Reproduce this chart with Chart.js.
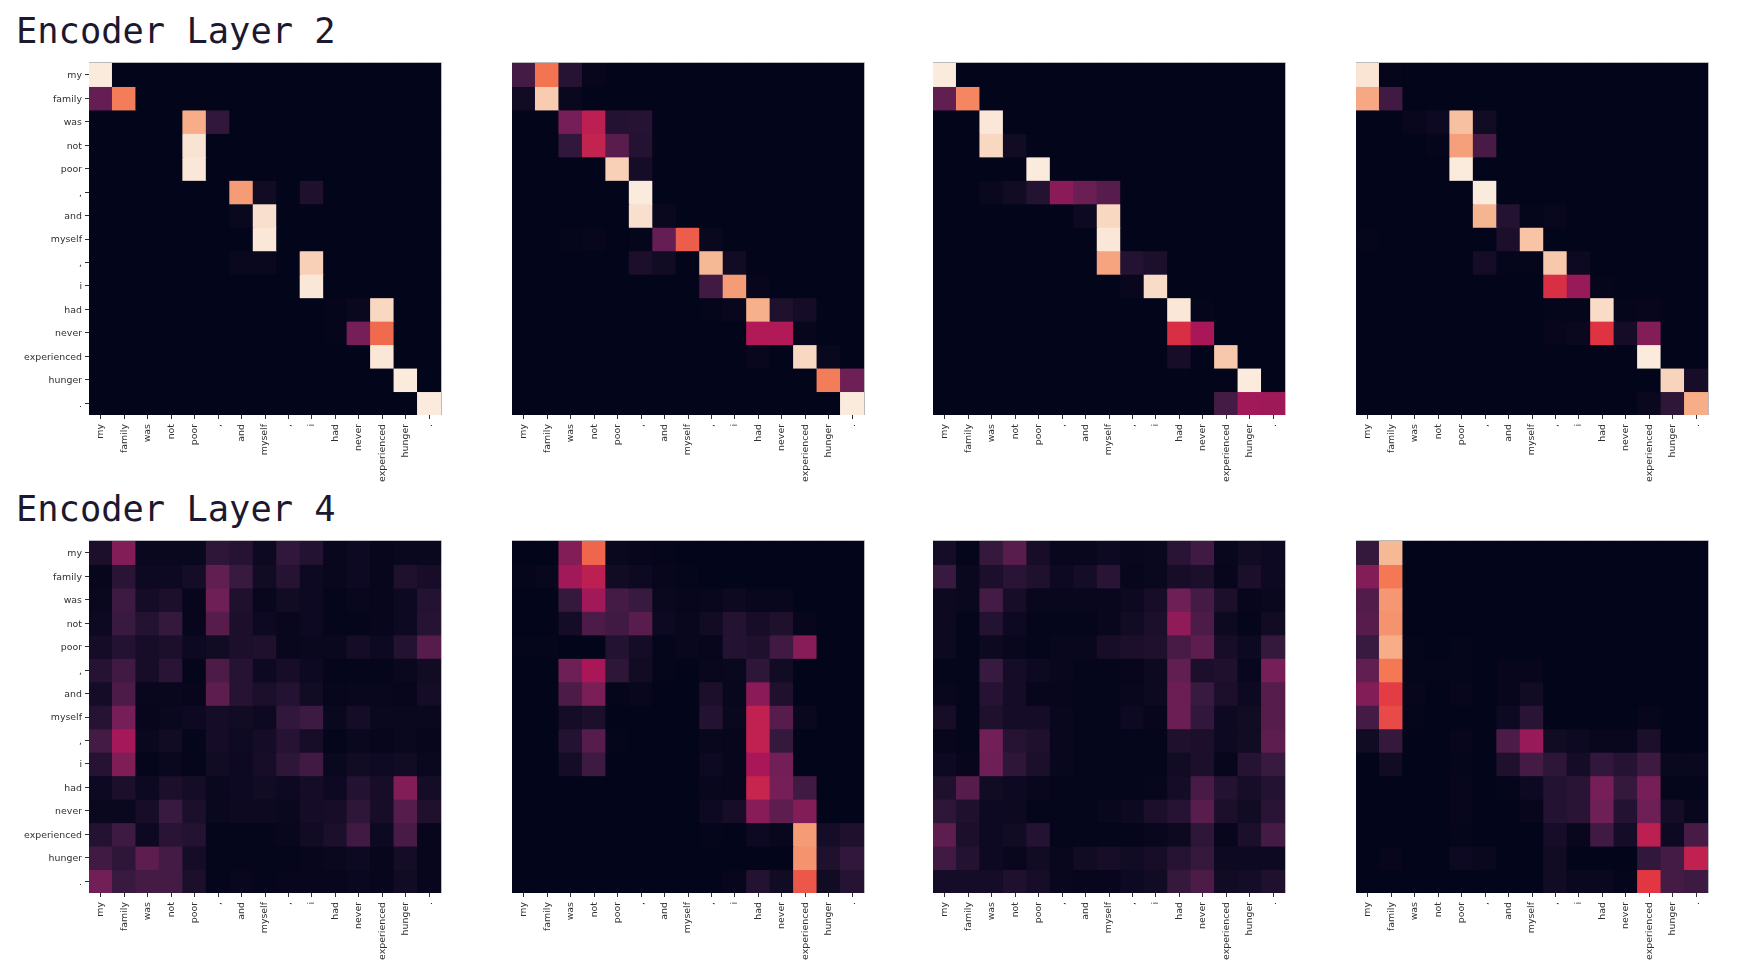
<!DOCTYPE html>
<html>
<head>
<meta charset="utf-8">
<title>Encoder attention</title>
<script src="https://cdn.jsdelivr.net/npm/chart.js@4"></script>
<style>
	html, body { margin: 0; padding: 0; background: #fff; }
	body { width: 1750px; height: 969px; position: relative; overflow: hidden; }
	canvas { position: absolute; }
	.layer-title {
		position: absolute;
		left: 16px;
		font-family: "DejaVu Sans Mono", monospace;
		font-size: 35.4px;
		line-height: 40px;
		color: #1c1830;
		white-space: pre;
	}
</style>
</head>
<body>
<div class="layer-title" style="top:11px">Encoder Layer 2</div>
<div class="layer-title" style="top:489px">Encoder Layer 4</div>
<canvas id="c0"></canvas>
<canvas id="c1"></canvas>
<canvas id="c2"></canvas>
<canvas id="c3"></canvas>
<canvas id="c4"></canvas>
<canvas id="c5"></canvas>
<canvas id="c6"></canvas>
<canvas id="c7"></canvas>
<script>
var tokens = ['my', 'family', 'was', 'not', 'poor', ',', 'and', 'myself', ',', 'i', 'had', 'never', 'experienced', 'hunger', '.'];

var layer2Head1 = [
	[1, 0, 0, 0, 0, 0, 0, 0, 0, 0, 0, 0, 0, 0, 0],
	[.26, .73, 0, 0, 0, 0, 0, 0, 0, 0, 0, 0, 0, 0, 0],
	[0, 0, 0, 0, .84, .13, 0, 0, 0, 0, 0, 0, 0, 0, 0],
	[0, 0, 0, 0, .98, 0, 0, 0, 0, 0, 0, 0, 0, 0, 0],
	[0, 0, 0, 0, .99, 0, 0, 0, 0, 0, 0, 0, 0, 0, 0],
	[0, 0, 0, 0, 0, 0, .8, .04, 0, .08, 0, 0, 0, 0, 0],
	[0, 0, 0, 0, 0, 0, .02, .97, 0, 0, 0, 0, 0, 0, 0],
	[0, 0, 0, 0, 0, 0, 0, .99, 0, 0, 0, 0, 0, 0, 0],
	[0, 0, 0, 0, 0, 0, .02, .02, 0, .93, 0, 0, 0, 0, 0],
	[0, 0, 0, 0, 0, 0, 0, 0, 0, .99, 0, 0, 0, 0, 0],
	[0, 0, 0, 0, 0, 0, 0, 0, 0, 0, .005, .02, .95, 0, 0],
	[0, 0, 0, 0, 0, 0, 0, 0, 0, 0, .005, .3, .69, 0, 0],
	[0, 0, 0, 0, 0, 0, 0, 0, 0, 0, 0, 0, .99, 0, 0],
	[0, 0, 0, 0, 0, 0, 0, 0, 0, 0, 0, 0, 0, 1, 0],
	[0, 0, 0, 0, 0, 0, 0, 0, 0, 0, 0, 0, 0, 0, 1]
];
var layer2Head2 = [
	[.18, .71, .1, .01, 0, 0, 0, 0, 0, 0, 0, 0, 0, 0, 0],
	[.04, .92, .02, 0, 0, 0, 0, 0, 0, 0, 0, 0, 0, 0, 0],
	[0, 0, .3, .47, .09, .1, 0, 0, 0, 0, 0, 0, 0, 0, 0],
	[0, 0, .13, .49, .23, .09, 0, 0, 0, 0, 0, 0, 0, 0, 0],
	[0, 0, 0, 0, .93, .05, 0, 0, 0, 0, 0, 0, 0, 0, 0],
	[0, 0, 0, 0, 0, 1, 0, 0, 0, 0, 0, 0, 0, 0, 0],
	[0, 0, 0, 0, 0, .97, .02, 0, 0, 0, 0, 0, 0, 0, 0],
	[0, 0, .005, .01, 0, .005, .26, .66, .02, 0, 0, 0, 0, 0, 0],
	[0, 0, 0, 0, 0, .07, .04, 0, .87, .04, 0, 0, 0, 0, 0],
	[0, 0, 0, 0, 0, 0, 0, 0, .17, .8, .01, 0, 0, 0, 0],
	[0, 0, 0, 0, 0, 0, 0, 0, .005, .015, .85, .08, .05, 0, 0],
	[0, 0, 0, 0, 0, 0, 0, 0, 0, 0, .44, .44, .01, 0, 0],
	[0, 0, 0, 0, 0, 0, 0, 0, 0, 0, .015, 0, .95, .02, 0],
	[0, 0, 0, 0, 0, 0, 0, 0, 0, 0, 0, 0, 0, .73, .28],
	[0, 0, 0, 0, 0, 0, 0, 0, 0, 0, 0, 0, 0, 0, 1]
];
var layer2Head3 = [
	[1, 0, 0, 0, 0, 0, 0, 0, 0, 0, 0, 0, 0, 0, 0],
	[.25, .75, 0, 0, 0, 0, 0, 0, 0, 0, 0, 0, 0, 0, 0],
	[0, 0, .99, 0, 0, 0, 0, 0, 0, 0, 0, 0, 0, 0, 0],
	[0, 0, .95, .04, 0, 0, 0, 0, 0, 0, 0, 0, 0, 0, 0],
	[0, 0, 0, 0, 1, 0, 0, 0, 0, 0, 0, 0, 0, 0, 0],
	[0, 0, .02, .04, .09, .35, .27, .22, 0, 0, 0, 0, 0, 0, 0],
	[0, 0, 0, 0, 0, 0, .03, .95, 0, 0, 0, 0, 0, 0, 0],
	[0, 0, 0, 0, 0, 0, 0, .99, 0, 0, 0, 0, 0, 0, 0],
	[0, 0, 0, 0, 0, 0, 0, .82, .09, .07, 0, 0, 0, 0, 0],
	[0, 0, 0, 0, 0, 0, 0, 0, .015, .96, 0, 0, 0, 0, 0],
	[0, 0, 0, 0, 0, 0, 0, 0, 0, 0, .99, .005, 0, 0, 0],
	[0, 0, 0, 0, 0, 0, 0, 0, 0, 0, .55, .42, 0, 0, 0],
	[0, 0, 0, 0, 0, 0, 0, 0, 0, 0, .06, 0, .91, 0, 0],
	[0, 0, 0, 0, 0, 0, 0, 0, 0, 0, 0, 0, 0, 1, 0],
	[0, 0, 0, 0, 0, 0, 0, 0, 0, 0, 0, 0, .18, .4, .39]
];
var layer2Head4 = [
	[.985, .005, 0, 0, 0, 0, 0, 0, 0, 0, 0, 0, 0, 0, 0],
	[.83, .17, 0, 0, 0, 0, 0, 0, 0, 0, 0, 0, 0, 0, 0],
	[0, 0, .015, .03, .89, .04, 0, 0, 0, 0, 0, 0, 0, 0, 0],
	[0, 0, 0, .005, .81, .19, 0, 0, 0, 0, 0, 0, 0, 0, 0],
	[0, 0, 0, 0, 1, 0, 0, 0, 0, 0, 0, 0, 0, 0, 0],
	[0, 0, 0, 0, 0, 1, 0, 0, 0, 0, 0, 0, 0, 0, 0],
	[0, 0, 0, 0, 0, .86, .09, .005, .015, 0, 0, 0, 0, 0, 0],
	[.005, 0, 0, 0, 0, 0, .07, .9, 0, 0, 0, 0, 0, 0, 0],
	[0, 0, 0, 0, 0, .05, .005, .005, .91, .03, 0, 0, 0, 0, 0],
	[0, 0, 0, 0, 0, 0, 0, 0, .55, .38, .005, 0, 0, 0, 0],
	[0, 0, 0, 0, 0, 0, 0, 0, .005, .005, .96, .005, .01, 0, 0],
	[0, 0, 0, 0, 0, 0, 0, 0, .01, .02, .57, .05, .33, 0, 0],
	[0, 0, 0, 0, 0, 0, 0, 0, 0, 0, 0, 0, 1, 0, 0],
	[0, 0, 0, 0, 0, 0, 0, 0, 0, 0, 0, 0, 0, .94, .06],
	[0, 0, 0, 0, 0, 0, 0, 0, 0, 0, 0, 0, .02, .12, .84]
];
var layer4Head1 = [
	[.07, .33, .02, .02, .02, .12, .1, .03, .13, .09, .015, .03, .01, .02, .02],
	[.01, .11, .03, .03, .05, .25, .15, .04, .1, .03, .015, .03, .01, .08, .06],
	[.02, .16, .05, .07, .01, .28, .08, .015, .04, .03, .005, .015, .01, .03, .09],
	[.03, .15, .09, .14, .01, .22, .07, .03, .015, .03, .005, .005, .01, .03, .1],
	[.05, .09, .06, .07, .03, .04, .07, .08, .015, .02, .02, .05, .03, .09, .22],
	[.1, .17, .06, .11, .005, .2, .1, .03, .06, .03, .005, .005, .005, .02, .04],
	[.05, .2, .015, .015, .01, .24, .1, .07, .09, .04, .01, .015, .015, .01, .05],
	[.1, .3, .01, .02, .03, .05, .04, .03, .13, .16, .02, .05, .02, .02, .02],
	[.18, .41, .02, .04, .005, .05, .035, .05, .1, .06, .005, .02, .01, .02, .01],
	[.1, .32, .005, .02, .005, .04, .03, .06, .12, .17, .02, .04, .035, .04, .02],
	[.03, .07, .03, .07, .05, .02, .03, .04, .03, .05, .03, .09, .06, .33, .05],
	[.02, .02, .06, .15, .07, .02, .025, .025, .02, .05, .06, .12, .06, .22, .08],
	[.09, .16, .03, .11, .09, .005, .005, .005, .015, .04, .07, .17, .03, .19, .01],
	[.17, .12, .24, .18, .05, .005, .005, .005, .005, .01, .02, .03, .01, .05, .01],
	[.29, .15, .18, .18, .07, .005, .015, .005, .01, .01, .01, .02, .01, .04, .01]
];
var layer4Head2 = [
	[0, 0, .33, .68, .02, .01, .005, 0, 0, 0, 0, 0, 0, 0, 0],
	[.005, .015, .4, .47, .04, .03, .01, .005, 0, 0, 0, 0, 0, 0, 0],
	[0, 0, .14, .4, .18, .15, .02, .01, .015, .025, .015, .015, 0, 0, 0],
	[0, 0, .05, .2, .17, .23, .03, .015, .04, .09, .06, .08, .01, 0, 0],
	[.005, .005, 0, 0, .09, .05, .005, .015, .01, .09, .08, .17, .34, 0, 0],
	[0, 0, .28, .42, .12, .04, .005, 0, .015, .02, .12, .04, 0, 0, 0],
	[0, 0, .2, .31, .005, .015, 0, 0, .07, .015, .35, .08, 0, 0, 0],
	[0, 0, .05, .07, 0, 0, 0, 0, .09, .02, .48, .22, .02, 0, 0],
	[0, 0, .09, .22, .005, 0, 0, 0, .015, .01, .48, .14, 0, 0, 0],
	[0, 0, .05, .16, 0, 0, 0, 0, .03, .01, .42, .29, 0, 0, 0],
	[0, 0, 0, 0, 0, 0, 0, 0, .015, .01, .5, .3, .17, 0, 0],
	[0, 0, 0, 0, 0, 0, 0, 0, .03, .06, .34, .24, .33, 0, 0],
	[0, 0, 0, 0, 0, 0, 0, 0, .005, 0, .03, .015, .8, .05, .08],
	[0, 0, 0, 0, 0, 0, 0, 0, 0, 0, 0, 0, .78, .08, .13],
	[0, 0, 0, 0, 0, 0, 0, 0, 0, .01, .09, .04, .65, .04, .1]
];
var layer4Head3 = [
	[.05, .005, .14, .23, .06, .015, .015, .03, .015, .02, .11, .17, .015, .04, .03],
	[.15, .02, .07, .11, .08, .03, .05, .11, .01, .02, .06, .07, .01, .07, .03],
	[.025, .02, .18, .06, .015, .015, .015, .015, .025, .06, .28, .18, .07, .01, .02],
	[.025, .005, .09, .03, .005, .005, .005, .015, .04, .07, .36, .2, .025, .005, .04],
	[.025, .005, .025, .015, .005, .015, .015, .06, .07, .08, .19, .24, .06, .03, .14],
	[.005, .005, .15, .05, .03, .015, .005, .005, .01, .025, .25, .07, .08, .015, .3],
	[.015, .005, .1, .05, .01, .01, .005, .005, .015, .025, .27, .15, .07, .03, .22],
	[.06, .005, .08, .05, .05, .015, .005, .005, .03, .01, .27, .13, .03, .04, .22],
	[.01, .005, .29, .1, .08, .015, .005, .005, .005, .005, .08, .07, .03, .04, .24],
	[.03, .01, .28, .12, .07, .015, .005, .005, .005, .005, .04, .07, .01, .1, .15],
	[.08, .22, .04, .03, .015, .005, .005, .005, .005, .01, .05, .19, .09, .06, .09],
	[.12, .08, .03, .025, .005, .005, .005, .015, .025, .07, .1, .23, .07, .04, .11],
	[.24, .07, .03, .04, .09, .005, .005, .005, .005, .015, .025, .12, .01, .07, .18],
	[.17, .09, .03, .015, .04, .015, .04, .06, .04, .06, .1, .14, .03, .03, .03],
	[.05, .05, .05, .08, .06, .015, .01, .01, .03, .04, .14, .2, .04, .05, .08]
];
var layer4Head4 = [
	[.14, .87, 0, 0, 0, 0, 0, 0, 0, 0, 0, 0, 0, 0, 0],
	[.33, .72, 0, 0, 0, 0, 0, 0, 0, 0, 0, 0, 0, 0, 0],
	[.21, .79, 0, 0, 0, 0, 0, 0, 0, 0, 0, 0, 0, 0, 0],
	[.22, .78, 0, 0, 0, 0, 0, 0, 0, 0, 0, 0, 0, 0, 0],
	[.15, .84, .005, 0, .005, 0, 0, 0, 0, 0, 0, 0, 0, 0, 0],
	[.25, .72, .005, .005, .005, 0, .01, .01, 0, 0, 0, 0, 0, 0, 0],
	[.33, .59, .01, 0, .01, 0, .01, .04, 0, 0, 0, 0, 0, 0, 0],
	[.18, .62, .005, 0, 0, 0, .03, .11, 0, 0, 0, 0, .01, 0, 0],
	[.04, .14, 0, 0, .01, 0, .2, .38, .04, .03, .015, .015, .07, 0, 0],
	[0, .04, 0, 0, .005, 0, .08, .18, .12, .05, .13, .1, .16, .02, .02],
	[0, 0, 0, 0, .01, 0, .005, .03, .09, .11, .3, .14, .3, .005, .005],
	[0, 0, 0, 0, .01, 0, 0, .01, .09, .11, .28, .09, .28, .05, .015],
	[0, 0, 0, 0, .005, 0, 0, 0, .06, .015, .17, .05, .47, .03, .19],
	[0, .01, 0, 0, .03, .02, 0, 0, .04, 0, 0, 0, .13, .18, .48],
	[0, 0, 0, 0, 0, 0, 0, 0, .04, .02, .02, .005, .58, .18, .16]
];

var panels = [layer2Head1, layer2Head2, layer2Head3, layer2Head4, layer4Head1, layer4Head2, layer4Head3, layer4Head4];

// rocket colormap
var rocket = [[3, 5, 26], [53, 25, 62], [112, 31, 87], [173, 23, 89], [225, 51, 66], [243, 118, 81], [246, 180, 143], [250, 235, 221]];

function cellColor(v) {
	var p = Math.min(v, 1) * (rocket.length - 1);
	var i = Math.min(Math.floor(p), rocket.length - 2);
	var t = p - i;
	var c = rocket[i].map(function(a, k) { return Math.round(a + (rocket[i + 1][k] - a) * t); });
	return 'rgb(' + c.join(',') + ')';
}

var panelLeft = [89, 512, 933, 1356];
var panelTop = [63, 541];
var panelSize = 352;
var pad = 10;
var axisHeight = 76;
var textColor = '#303030';
var tickFont = { family: '"DejaVu Sans"', size: 9.4 };

// dark backing so cell seams do not show, light edge on top and right like the original
var heatmapFrame = {
	id: 'heatmapFrame',
	beforeDatasetsDraw: function(chart) {
		var a = chart.chartArea;
		chart.ctx.save();
		chart.ctx.fillStyle = 'rgb(3,5,26)';
		chart.ctx.fillRect(a.left, a.top, a.right - a.left, a.bottom - a.top);
		chart.ctx.restore();
	},
	afterDatasetsDraw: function(chart) {
		var a = chart.chartArea;
		var ctx = chart.ctx;
		ctx.save();
		ctx.strokeStyle = 'rgba(170,170,175,0.8)';
		ctx.lineWidth = 1;
		ctx.beginPath();
		ctx.moveTo(a.left, a.top - 0.5);
		ctx.lineTo(a.right + 0.5, a.top - 0.5);
		ctx.lineTo(a.right + 0.5, a.bottom);
		ctx.stroke();
		ctx.restore();
	}
};

function makePanel(index, matrix) {
	var col = index % 4;
	var row = Math.floor(index / 4);
	var yWidth = col === 0 ? panelLeft[0] - pad : 0;
	var canvas = document.getElementById('c' + index);
	canvas.width = yWidth + panelSize + pad * 2;
	canvas.height = panelSize + axisHeight + pad;
	canvas.style.width = canvas.width + 'px';
	canvas.style.height = canvas.height + 'px';
	canvas.style.left = (panelLeft[col] - yWidth - pad) + 'px';
	canvas.style.top = (panelTop[row] - pad) + 'px';

	new Chart(canvas.getContext('2d'), {
		type: 'bar',
		plugins: [heatmapFrame],
		data: {
			labels: tokens,
			datasets: matrix.map(function(values, r) {
				return {
					label: tokens[r],
					data: values.map(function() { return 1; }),
					backgroundColor: values.map(cellColor),
					borderWidth: 0,
					inflateAmount: 0.5,
					barPercentage: 1,
					categoryPercentage: 1
				};
			})
		},
		options: {
			responsive: false,
			animation: false,
			events: [],
			layout: { padding: { top: pad, right: pad, left: pad, bottom: 0 } },
			plugins: { legend: { display: false }, tooltip: { enabled: false } },
			scales: {
				x: {
					stacked: true,
					afterFit: function(scale) { scale.height = axisHeight; },
					border: { display: false },
					grid: { offset: false, drawOnChartArea: false, tickLength: 4, tickColor: textColor, tickWidth: 1 },
					ticks: { autoSkip: false, minRotation: 90, maxRotation: 90, padding: 5, color: textColor, font: tickFont }
				},
				y: {
					stacked: true,
					reverse: true,
					min: 0,
					max: tokens.length,
					afterFit: function(scale) { scale.width = yWidth; },
					afterBuildTicks: function(scale) {
						scale.ticks = tokens.map(function(t, i) { return { value: i + 0.5 }; });
					},
					border: { display: false },
					grid: { display: col === 0, drawOnChartArea: false, tickLength: 4, tickColor: textColor, tickWidth: 1 },
					ticks: {
						display: col === 0,
						autoSkip: false,
						padding: 3,
						labelOffset: 1,
						color: textColor,
						font: tickFont,
						callback: function(value) { return tokens[value - 0.5]; }
					}
				}
			}
		}
	});
}

window.onload = function() {
	panels.forEach(function(matrix, i) {
		makePanel(i, matrix);
	});
};
</script>
</body>
</html>
